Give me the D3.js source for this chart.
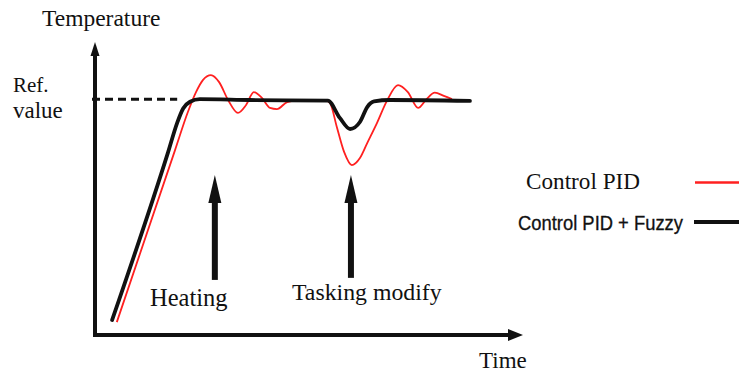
<!DOCTYPE html>
<html>
<head>
<meta charset="utf-8">
<script src="https://cdn.jsdelivr.net/npm/d3@7"></script>
<style>
    body { margin: 0; background: #fff; }
    svg { display: block; }
    .serif { font-family: "Liberation Serif", "Times New Roman", serif; fill: #111; }
    .sans { font-family: "Liberation Sans", Arial, sans-serif; fill: #111; }
</style>
</head>
<body>
<div id="chart"></div>
<script>
// Step response: PID vs PID + Fuzzy (arbitrary units 0-100)
const pidTime = [5.1, 18.7, 21.7, 23.6, 25.2, 27.1, 29.0, 31.1, 33.4, 35.3, 37.1, 39.0, 40.9, 42.5, 44.9, 47.9,
    53.7, 54.9, 56.5, 58.2, 60.0, 61.9, 63.6, 65.9, 68.2, 70.8, 73.1, 75.5, 77.3, 79.4, 81.5, 83.4];
const pidTemp = [4.4, 63.1, 76.1, 82.9, 87.0, 88.7, 86.3, 80.2, 75.8, 78.5, 82.9, 80.9, 77.5, 77.1, 79.5, 80.2,
    80.2, 79.2, 71.0, 62.5, 58.0, 60.4, 65.5, 72.4, 79.9, 85.3, 82.9, 77.5, 80.2, 82.7, 81.6, 80.5];

const fuzzyTime = [4.0, 17.1, 19.2, 20.6, 22.2, 24.5, 36.2, 54.4, 57.2, 59.6, 61.9, 63.6, 65.2, 68.9, 87.6];
const fuzzyTemp = [5.1, 62.5, 72.4, 77.3, 79.6, 80.5, 80.2, 80.0, 74.1, 70.3, 72.7, 77.8, 79.7, 80.2, 79.9];

const refValue = 80.5;
const refEnd = 19.2;

// annotation arrows: [time, from, to]
const events = [
    { label: 'Heating', time: 28.0, from: 18.8, to: 54.6 },
    { label: 'Tasking modify', time: 59.8, from: 19.5, to: 54.6 }
];

const legendItems = [
    { label: 'Control PID', color: '#ff2020' },
    { label: 'Control PID + Fuzzy', color: '#111' }
];

const width = 739, height = 372;

const svg = d3.select('#chart').append('svg')
    .attr('width', width)
    .attr('height', height);

svg.append('rect')
    .attr('width', width)
    .attr('height', height)
    .attr('fill', '#fff');

const xScale = d3.scaleLinear().domain([0, 100]).range([95, 523]);
const yScale = d3.scaleLinear().domain([0, 100]).range([335, 42]);

// Axes as plain arrows
const x0 = xScale(0), y0 = yScale(0);
svg.append('line')
    .attr('x1', x0).attr('y1', y0 + 2)
    .attr('x2', x0).attr('y2', yScale(100) + 12)
    .style('stroke', '#111').style('stroke-width', 4);
svg.append('path')
    .attr('d', `M${x0},${yScale(100)} L${x0 - 4.5},${yScale(100) + 14} L${x0 + 4.5},${yScale(100) + 14} Z`)
    .style('fill', '#111');

svg.append('line')
    .attr('x1', x0 - 2).attr('y1', y0)
    .attr('x2', xScale(100) - 12).attr('y2', y0)
    .style('stroke', '#111').style('stroke-width', 4);
svg.append('path')
    .attr('d', `M${xScale(100)},${y0} L${xScale(100) - 15},${y0 - 6} L${xScale(100) - 15},${y0 + 6} Z`)
    .style('fill', '#111');

// Reference value dashed line
svg.append('line')
    .attr('x1', x0 - 3).attr('y1', yScale(refValue))
    .attr('x2', xScale(refEnd)).attr('y2', yScale(refValue))
    .style('stroke', '#111')
    .style('stroke-width', 3)
    .style('stroke-dasharray', '8,5');

// Curves
const line = d3.line()
    .x(d => xScale(d[0]))
    .y(d => yScale(d[1]))
    .curve(d3.curveMonotoneX);

svg.append('path')
    .datum(pidTime.map((t, i) => [t, pidTemp[i]]))
    .attr('d', line)
    .style('fill', 'none')
    .style('stroke', legendItems[0].color)
    .style('stroke-width', 1.8);

svg.append('path')
    .datum(fuzzyTime.map((t, i) => [t, fuzzyTemp[i]]))
    .attr('d', line)
    .style('fill', 'none')
    .style('stroke', legendItems[1].color)
    .style('stroke-width', 3.8)
    .style('stroke-linecap', 'round');

// Event arrows
events.forEach(ev => {
    const x = xScale(ev.time);
    const yTip = yScale(ev.to);
    svg.append('line')
        .attr('x1', x).attr('y1', yScale(ev.from))
        .attr('x2', x).attr('y2', yTip + 20)
        .style('stroke', '#111')
        .style('stroke-width', 6);
    svg.append('path')
        .attr('d', `M${x},${yTip} L${x - 6.5},${yTip + 28} L${x + 6.5},${yTip + 28} Z`)
        .style('fill', '#111');
});

// Texts
const addText = (cls, x, y, size, txt) => svg.append('text')
    .attr('class', cls)
    .attr('x', x).attr('y', y)
    .style('font-size', size + 'px')
    .text(txt);

addText('serif', 42, 26, 23.5, 'Temperature');
addText('serif', 13, 92, 21, 'Ref.');
addText('serif', 13, 118, 23, 'value');
addText('serif', 150, 306, 24.5, events[0].label);
addText('serif', 292, 300, 23.8, events[1].label);
addText('serif', 479, 368, 23, 'Time');

// Legend
addText('serif', 526, 189, 23.2, legendItems[0].label);
svg.append('line')
    .attr('x1', 695).attr('x2', 739)
    .attr('y1', 182.5).attr('y2', 182.5)
    .style('stroke', legendItems[0].color)
    .style('stroke-width', 2.5);

addText('sans', 518, 230, 20, legendItems[1].label)
    .attr('textLength', 165)
    .attr('lengthAdjust', 'spacingAndGlyphs')
    .style('stroke', '#111')
    .style('stroke-width', 0.3);
svg.append('line')
    .attr('x1', 694).attr('x2', 739)
    .attr('y1', 222).attr('y2', 222)
    .style('stroke', legendItems[1].color)
    .style('stroke-width', 4);
</script>
</body>
</html>
